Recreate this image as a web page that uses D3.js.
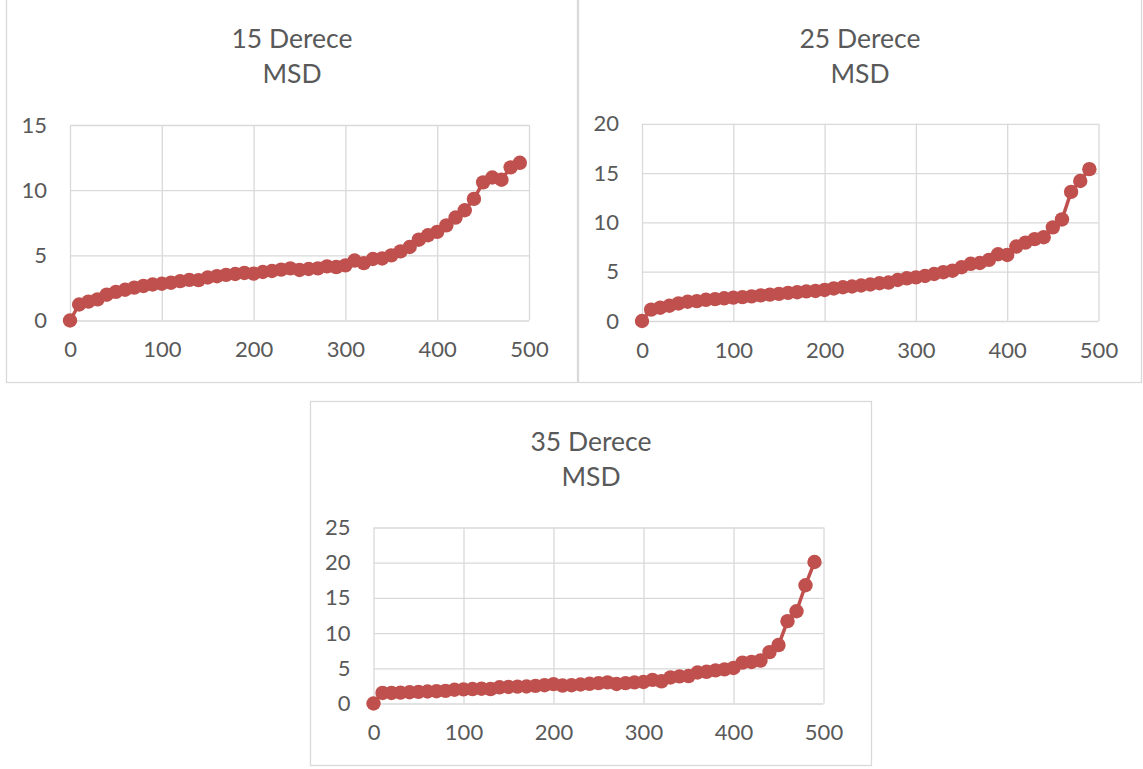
<!DOCTYPE html>
<html>
<head>
<meta charset="utf-8">
<script src="https://cdn.jsdelivr.net/npm/d3@7"></script>
<style>
  html, body { margin: 0; padding: 0; background: #ffffff; }
  svg { display: block; }
  text { font-family: Lato, "Open Sans", sans-serif; fill: #595959; }
</style>
</head>
<body>
<svg id="chart" width="1143" height="769"></svg>
<script>
// ---- data ----
const xValues = [0,10,20,30,40,50,60,70,80,90,100,110,120,130,140,150,160,170,180,190,200,210,220,230,240,250,260,270,280,290,300,310,320,330,340,350,360,370,380,390,400,410,420,430,440,450,460,470,480,490];

const msd15 = [0,1.23,1.45,1.62,1.98,2.2,2.36,2.52,2.65,2.76,2.82,2.9,3.02,3.12,3.1,3.3,3.4,3.5,3.57,3.65,3.6,3.72,3.8,3.9,4.0,3.88,3.95,4.0,4.15,4.1,4.23,4.6,4.4,4.72,4.76,5.0,5.3,5.64,6.2,6.54,6.8,7.3,7.9,8.46,9.33,10.6,10.97,10.8,11.75,12.1];

const msd25 = [0,1.15,1.35,1.55,1.78,1.95,2.02,2.15,2.22,2.3,2.37,2.42,2.5,2.6,2.67,2.75,2.85,2.92,3.0,3.05,3.15,3.3,3.42,3.5,3.6,3.7,3.83,3.9,4.16,4.33,4.42,4.57,4.77,4.95,5.1,5.45,5.8,5.88,6.2,6.77,6.7,7.55,7.95,8.3,8.5,9.5,10.3,13.1,14.2,15.4];

const msd35 = [0,1.5,1.5,1.55,1.6,1.65,1.7,1.75,1.8,1.95,2.0,2.05,2.1,2.05,2.3,2.35,2.4,2.42,2.5,2.6,2.75,2.55,2.6,2.7,2.8,2.9,3.0,2.78,2.9,3.0,3.05,3.35,3.15,3.7,3.85,3.9,4.4,4.5,4.7,4.85,5.05,5.8,5.9,6.1,7.3,8.3,11.7,13.1,16.8,20.1];

const xTicks = [0,100,200,300,400,500];
const yTicks15 = [0,5,10,15];
const yTicks25 = [0,5,10,15,20];
const yTicks35 = [0,5,10,15,20,25];

const titles = [["15 Derece","MSD"],["25 Derece","MSD"],["35 Derece","MSD"]];

// ---- layout ----
const panels = [
  { frame:[6.5,-1.5,571,384], plot:{x0:70,x1:529,y0:320.5,y1:125}, yMax:15, yTicks:yTicks15, values:msd15, title:titles[0], titleY:[48,83] },
  { frame:[578.5,-1.5,563,384], plot:{x0:642,x1:1098.5,y0:321,y1:123.8}, yMax:20, yTicks:yTicks25, values:msd25, title:titles[1], titleY:[48,83] },
  { frame:[310.5,401.5,561,364], plot:{x0:373.5,x1:823.5,y0:703.5,y1:527.5}, yMax:25, yTicks:yTicks35, values:msd35, title:titles[2], titleY:[451,486] }
];

const svg = d3.select("#chart");
const red = "#c0504d";
const grid = "#d9d9d9";

panels.forEach(p => {
  const g = svg.append("g");
  const [fx, fy, fw, fh] = p.frame;
  g.append("rect").attr("x", fx).attr("y", fy).attr("width", fw).attr("height", fh)
    .attr("fill", "#fff").attr("stroke", grid).attr("stroke-width", 1.3);

  const cx = fx + fw / 2;
  g.append("text").attr("x", cx).attr("y", p.titleY[0]).attr("text-anchor", "middle")
    .attr("font-size", 26.5).text(p.title[0]);
  g.append("text").attr("x", cx).attr("y", p.titleY[1]).attr("text-anchor", "middle")
    .attr("font-size", 26.5).text(p.title[1]);

  const x = d3.scaleLinear().domain([0, 500]).range([p.plot.x0, p.plot.x1]);
  const y = d3.scaleLinear().domain([0, p.yMax]).range([p.plot.y0, p.plot.y1]);

  const xAxis = d3.axisBottom(x).tickValues(xTicks).tickSize(-(p.plot.y0 - p.plot.y1)).tickPadding(21);
  const gx = g.append("g").attr("transform", `translate(0,${p.plot.y0})`).call(xAxis);
  gx.select(".domain").remove();
  gx.selectAll(".tick line").attr("stroke", grid).attr("stroke-width", 1.3);
  gx.selectAll(".tick text").attr("font-size", 22).attr("fill", "#595959")
    .attr("font-family", "Lato, 'Open Sans', sans-serif").attr("dy", "0.71em");

  const yAxis = d3.axisLeft(y).tickValues(p.yTicks).tickSize(-(p.plot.x1 - p.plot.x0)).tickPadding(23);
  const gy = g.append("g").attr("transform", `translate(${p.plot.x0},0)`).call(yAxis);
  gy.select(".domain").remove();
  gy.selectAll(".tick line").attr("stroke", grid).attr("stroke-width", 1.3);
  gy.selectAll(".tick text").attr("font-size", 22).attr("fill", "#595959")
    .attr("font-family", "Lato, 'Open Sans', sans-serif");

  const data = xValues.map((xv, i) => ({ x: xv, y: p.values[i] }));
  const line = d3.line().x(d => x(d.x)).y(d => y(d.y));
  g.append("path").datum(data).attr("d", line).attr("fill", "none")
    .attr("stroke", red).attr("stroke-width", 3.5).attr("stroke-linejoin", "round");
  g.selectAll("circle.pt").data(data).join("circle").attr("class", "pt")
    .attr("cx", d => x(d.x)).attr("cy", d => y(d.y)).attr("r", 7.2).attr("fill", red);
});
</script>
</body>
</html>
